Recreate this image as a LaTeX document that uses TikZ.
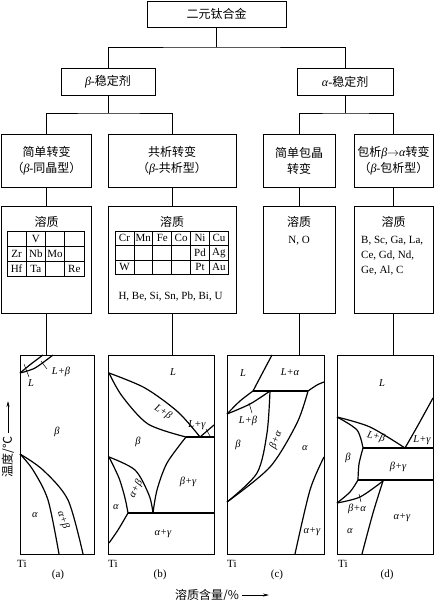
\documentclass[tikz,border=0pt]{standalone}
\usepackage{fontspec}
\setmainfont{Liberation Serif}
\newfontfamily\cjk{Noto Sans CJK SC}
\usepackage{tikz}
\usetikzlibrary{arrows.meta,positioning}
\newcommand{\zh}[1]{{\cjk #1}}

\begin{document}
\begin{tikzpicture}[x=1pt,y=-1pt,font=\fontsize{12}{16}\selectfont,
  box/.style={draw,line width=0.8pt,inner sep=0pt,align=center},
  link/.style={line width=0.8pt},
  cell/.style={draw,line width=0.7pt,inner sep=0pt,font=\fontsize{11}{12}\selectfont},
  elem/.style={font=\fontsize{11}{15}\selectfont,inner sep=0pt},
  phase/.style={line width=1.2pt},
  lead/.style={line width=0.5pt},
  phl/.style={font=\fontsize{10.5}{12}\selectfont\itshape,inner sep=0pt}]
\useasboundingbox (0,0) rectangle (434,600);

% tree boxes
\node[box,minimum width=139,minimum height=26] (root) at (216.5,14) {\zh{二元钛合金}};
\node[box,minimum width=94,minimum height=27] (bstab) at (108,81.5) {\textit{β}-\zh{稳定剂}};
\node[box,minimum width=96,minimum height=27] (astab) at (345,81.5) {\textit{α}-\zh{稳定剂}};

\node[box,minimum width=90,minimum height=53] (tr1) at (46.5,160.5) {\zh{简单转变}\\\zh{（}\textit{β}-\zh{同晶型）}};
\node[box,minimum width=128,minimum height=53] (tr2) at (172,160.5) {\zh{共析转变}\\\zh{（}\textit{β}-\zh{共析型）}};
\node[box,minimum width=72,minimum height=53] (tr3) at (299,160.5) {\zh{简单包晶}\\\zh{转变}};
\node[box,minimum width=79,minimum height=53] (tr4) at (393.5,160.5) {\zh{包析}\textit{β}$\rightarrow$\textit{α}\zh{转变}\\\zh{（}\textit{β}-\zh{包析型）}};

\node[box,minimum width=90,minimum height=107] (sol1) at (46.5,259.5) {};
\node[box,minimum width=128,minimum height=107] (sol2) at (172,259.5) {};
\node[box,minimum width=72,minimum height=107] (sol3) at (299,259.5) {};
\node[box,minimum width=79,minimum height=107] (sol4) at (393.5,259.5) {};
\foreach \i in {1,...,4}
  \node (sol\i t) at (sol\i.center |- 0,222) {\zh{溶质}};

% solute tables
\foreach \t [count=\k from 0] in {{},V,{},{},Zr,Nb,Mo,{},Hf,Ta,{},Re}{
  \pgfmathtruncatemacro\ci{mod(\k,4)}
  \pgfmathtruncatemacro\ri{\k/4}
  \node[cell,minimum width=19.25,minimum height=15] (ta-\k) at (16.6+19.25*\ci,238.5+15*\ri) {\t};
}
\foreach \t [count=\k from 0] in {Cr,Mn,Fe,Co,Ni,Cu,{},{},{},{},Pd,Ag,W,{},{},{},Pt,Au}{
  \pgfmathtruncatemacro\ci{mod(\k,6)}
  \pgfmathtruncatemacro\ri{\k/6}
  \node[cell,minimum width=18.9,minimum height=14.5] (tb-\k) at (124.45+18.9*\ci,238.25+14.5*\ri) {\t};
}
\node[elem] (eut) at (170.5,297) {H, Be, Si, Sn, Pb, Bi, U};
\node[elem] (per) at (299,241) {N, O};
\node[elem,align=left,anchor=west] (pdt) at (361,256) {B, Sc, Ga, La,\\Ce, Gd, Nd,\\Ge, Al, C};

% phase diagram panels
\node[box,minimum width=74,minimum height=199] (pda) at (57,454.5) {};
\node[box,minimum width=106,minimum height=199] (pdb) at (161,454.5) {};
\node[box,minimum width=97,minimum height=199] (pdc) at (275.5,454.5) {};
\node[box,minimum width=96,minimum height=199] (pdd) at (385,454.5) {};

% connectors
\coordinate (j0) at (216.5,47);
\coordinate (j1) at (108,113);
\coordinate (j2) at (345,113);
\draw[link] (root.south) -- (j0);
\draw[link] (bstab.north) |- (j0) -| (astab.north);
\draw[link] (bstab.south) -- (j1);
\draw[link] (tr1.north) |- (j1) -| (tr2.north);
\draw[link] (astab.south) -- (j2);
\draw[link] (tr3.north) |- (j2) -| (tr4.north);
\foreach \i/\p in {1/a,2/b,3/c,4/d}{
  \draw[link] (tr\i.south) -- (sol\i.north);
  \draw[link] (sol\i.south) -- (sol\i.south |- pd\p.north);
}

% (a) beta-isomorphous
\draw[phase] plot[smooth] coordinates {(20,373) (31,364) (43,355)};
\draw[phase] plot[smooth] coordinates {(20,373) (35,368) (53,355)};
\draw[phase] plot[smooth] coordinates {(20,454) (33,470) (48,500) (59,554)};
\draw[phase] plot[smooth] coordinates {(20,454) (43,470) (68,500) (83,554)};
\draw[lead] (29,377) -- (24,364);
\draw[lead] (47,369) -- (41,361);
\node[phl] (a-l) at (31,383) {L};
\node[phl] (a-lb) at (61,372) {L+β};
\node[phl] (a-b) at (57,432) {β};
\node[phl] (a-a) at (35,515) {α};
\node[phl,rotate=-70] (a-ab) at (63,520) {α+β};

% (b) beta-eutectoid
\draw[phase] plot[smooth] coordinates {(109,373) (145,388) (178,412) (200,437)};
\draw[phase] plot[smooth] coordinates {(109,373) (122,396) (148,424) (186,437)};
\draw[phase] (186,437) -- (214,437);
\draw[phase] plot[smooth] coordinates {(200,437) (207,431) (214,425)};
\draw[phase] plot[smooth] coordinates {(186,437) (167,463) (157,490) (153,513)};
\draw[phase] (128,513) -- (214,513);
\draw[phase] plot[smooth] coordinates {(109,457) (135,470) (149,495) (153,513)};
\draw[phase] plot[smooth] coordinates {(109,457) (119,478) (125,498) (128,513)};
\draw[phase] plot[smooth] coordinates {(128,513) (118,530) (109,543)};
\draw[lead] (206,429) -- (210,436);
\node[phl] (b-l) at (173,372) {L};
\node[phl,rotate=-33] (b-lb) at (163,412) {L+β};
\node[phl] (b-lg) at (197,425) {L+γ};
\node[phl] (b-b) at (138,442) {β};
\node[phl] (b-bg) at (188,482) {β+γ};
\node[phl,rotate=62] (b-ab) at (136,489) {α+β};
\node[phl] (b-a) at (116,507) {α};
\node[phl] (b-ag) at (163,534) {α+γ};

% (c) simple peritectic
\draw[phase] plot[smooth] coordinates {(253,391) (263,372) (272,355)};
\draw[phase] (253,391) -- (308,391);
\draw[phase] plot[smooth] coordinates {(308,391) (317,385) (324,382)};
\draw[phase] plot[smooth] coordinates {(227,414) (240,401) (253,391)};
\draw[phase] plot[smooth] coordinates {(227,414) (250,404) (270,391)};
\draw[phase] plot[smooth] coordinates {(270,391) (267,433) (257,473) (227,502)};
\draw[phase] plot[smooth] coordinates {(308,391) (297,423) (270,467) (227,502)};
\draw[phase] plot[smooth] coordinates {(324,457) (310,490) (295,554)};
\draw[lead] (249,403) -- (252,413);
\node[phl] (c-l) at (243,373) {L};
\node[phl] (c-la) at (290,372) {L+α};
\node[phl] (c-lb) at (248,421) {L+β};
\node[phl] (c-b) at (238,445) {β};
\node[phl,rotate=68] (c-ba) at (276,440) {β+α};
\node[phl] (c-a) at (305,448) {α};
\node[phl] (c-ag) at (312,532) {α+γ};

% (d) beta-peritectoid
\draw[phase] plot[smooth] coordinates {(337,417) (370,427) (405,448)};
\draw[phase] plot[smooth] coordinates {(337,417) (357,430) (363,448)};
\draw[phase] (363,448) -- (433,448);
\draw[phase] plot[smooth] coordinates {(405,448) (417,427) (433,398)};
\draw[phase] plot[smooth] coordinates {(363,448) (359,464) (358,480)};
\draw[phase] (358,480) -- (433,480);
\draw[phase] plot[smooth] coordinates {(337,503) (350,492) (358,480)};
\draw[phase] plot[smooth] coordinates {(337,503) (360,497) (383,481)};
\draw[phase] plot[smooth] coordinates {(383,481) (373,513) (362,554)};
\draw[lead] (359,494) -- (361,502);
\node[phl] (d-l) at (382,383) {L};
\node[phl,rotate=-15] (d-lb) at (376,437) {L+β};
\node[phl] (d-lg) at (422,440) {L+γ};
\node[phl] (d-b) at (348,458) {β};
\node[phl] (d-bg) at (398,467) {β+γ};
\node[phl] (d-ba) at (357,509) {β+α};
\node[phl] (d-a) at (350,531) {α};
\node[phl] (d-ag) at (402,518) {α+γ};

% axes and captions
\foreach \x/\p in {17/a,108/b,227/c,338/d}
  \node[elem,anchor=west] (ti-\p) at (\x,564) {Ti};
\foreach \x/\p in {58/a,160/b,277/c,387/d}
  \node[elem] (cap-\p) at (\x,575) {(\p)};
\node[rotate=90] (ylab) at (8,457) {\zh{温度/℃}};
\coordinate (ytip) at (8,401);
\draw[-{Stealth[length=6pt,width=3pt]},line width=0.6pt] (ylab.east) -- (ytip);
\node (xlab) at (207,595) {\zh{溶质含量/\%}};
\coordinate (xtip) at (269,595);
\draw[-{Stealth[length=6pt,width=3pt]},line width=0.6pt] (xlab.east) -- (xtip);
\end{tikzpicture}
\end{document}
